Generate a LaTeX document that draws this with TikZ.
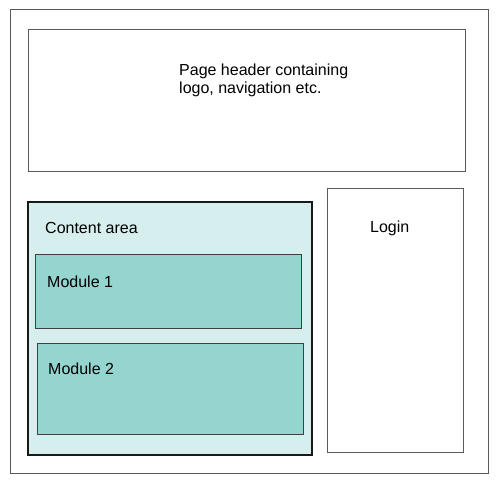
\documentclass[tikz,border=0pt]{standalone}
\usepackage{fontspec}
\setmainfont{Liberation Sans}
\usetikzlibrary{positioning}
\definecolor{areafill}{HTML}{D6EEEE}
\definecolor{modfill}{HTML}{94D5D0}

\begin{document}
\begin{tikzpicture}[
x=1pt, y=1pt,
font=\fontsize{16}{18}\selectfont,
region/.style={draw=black!65, line width=1pt, inner sep=0pt},
area/.style={draw=black!90, fill=areafill, line width=1.4pt, inner sep=0pt},
module/.style={draw=black!75, fill=modfill, line width=1pt, inner sep=0pt},
caption/.style={anchor=base west, inner sep=0pt, align=left}
]
\useasboundingbox (0,0) rectangle (498,483);
\node[region, minimum width=478, minimum height=463] (page) at (249,241.5) {};
\node[region, minimum width=437, minimum height=141] (header) at (246.5,382.5) {};
\node[area, minimum width=284, minimum height=253] (content) at (170,154.5) {};
\node[module, minimum width=266, minimum height=74] (mod1) at (168,192) {};
\node[module, minimum width=266, minimum height=91] (mod2) at (170,94.5) {};
\node[region, minimum width=136, minimum height=264] (login) at (395,163) {};

\node[caption] (headertext) at (179,389) {Page header containing\\logo, navigation etc.};
\node[caption] (contenttext) at (45,250) {Content area};
\node[caption] (mod1text) at (47,196) {Module 1};
\node[caption] (mod2text) at (48,109) {Module 2};
\node[caption] (logintext) at (370,251) {Login};
\end{tikzpicture}
\end{document}
